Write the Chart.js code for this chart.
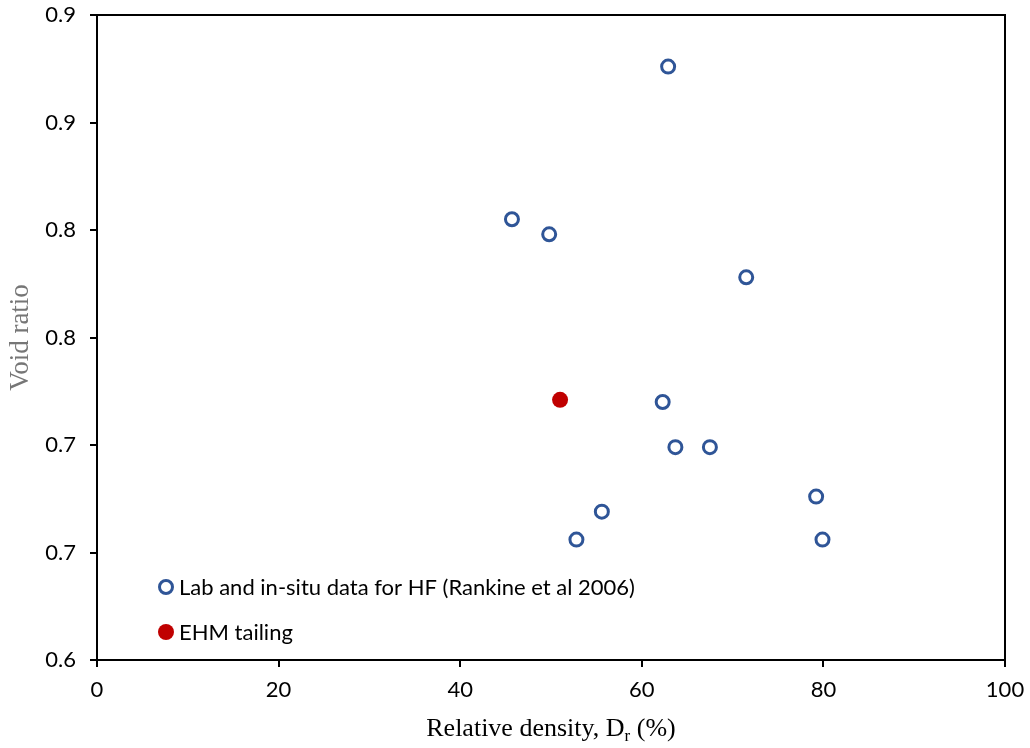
<!DOCTYPE html>
<html>
<head>
<meta charset="utf-8">
<script src="https://cdn.jsdelivr.net/npm/chart.js@4.4.0/dist/chart.umd.min.js"></script>
<style>
  html, body { margin: 0; padding: 0; background: #fff; }
  #wrap { width: 1030px; height: 748px; }
</style>
</head>
<body>
<div id="wrap"><canvas id="voids"></canvas></div>
<script>
// void ratio against relative density
const labDr   = [62.9, 45.7, 49.8, 71.5, 62.3, 63.7, 67.5, 55.6, 52.8, 79.2, 79.9];
const labVoid = [0.876, 0.805, 0.798, 0.778, 0.720, 0.699, 0.699, 0.669, 0.656, 0.676, 0.656];
const ehmDr   = [51.0];
const ehmVoid = [0.721];
const seriesNames = ['Lab and in-situ data for HF (Rankine et al 2006)', 'EHM tailing'];
const xTicks = [0, 20, 40, 60, 80, 100];
const yTicks = [0.6, 0.65, 0.7, 0.75, 0.8, 0.85, 0.9];
const yTickLabels = ['0.6', '0.7', '0.7', '0.8', '0.8', '0.9', '0.9'];

const BLUE = '#2F5597';
const RED = '#C00000';
const tickFont = { family: 'Lato', size: 22 };

function pts(xs, ys) {
    return xs.map((x, i) => ({ x: x, y: ys[i] }));
}

// box outline, axis titles and the in-plot legend
const extras = {
    id: 'extras',
    afterDraw(chart) {
        const ctx = chart.ctx;
        const a = chart.chartArea;
        ctx.save();
        ctx.strokeStyle = '#000';
        ctx.lineWidth = 2;
        ctx.beginPath();
        ctx.moveTo(a.left, a.top);
        ctx.lineTo(a.right, a.top);
        ctx.lineTo(a.right, a.bottom);
        ctx.stroke();

        // x title with subscript r
        ctx.fillStyle = '#000';
        ctx.textBaseline = 'alphabetic';
        const big = '26px "Liberation Serif"';
        const small = '17px "Liberation Serif"';
        const p1 = 'Relative density, D', p2 = 'r', p3 = ' (%)';
        ctx.font = big;
        const w1 = ctx.measureText(p1).width, w3 = ctx.measureText(p3).width;
        ctx.font = small;
        const w2 = ctx.measureText(p2).width;
        let x = (a.left + a.right) / 2 - (w1 + w2 + w3) / 2;
        const by = 736;
        ctx.font = big;
        ctx.textAlign = 'left';
        ctx.fillText(p1, x, by);
        x += w1;
        ctx.font = small;
        ctx.fillText(p2, x, by + 5);
        x += w2;
        ctx.font = big;
        ctx.fillText(p3, x, by);

        // y title
        ctx.save();
        ctx.translate(21, (a.top + a.bottom) / 2);
        ctx.rotate(-Math.PI / 2);
        ctx.textAlign = 'center';
        ctx.textBaseline = 'middle';
        ctx.fillStyle = '#767676';
        ctx.font = '27px "Liberation Serif"';
        ctx.fillText('Void ratio', 0, 0);
        ctx.restore();

        // legend
        const lx = a.left + 69;
        const rows = [a.bottom - 73, a.bottom - 28];
        chart.data.datasets.forEach((ds, i) => {
            const y = rows[i];
            ctx.beginPath();
            ctx.arc(lx, y, ds.pointRadius, 0, Math.PI * 2);
            if (ds.pointBorderWidth > 0) {
                ctx.fillStyle = '#fff';
                ctx.fill();
                ctx.lineWidth = ds.pointBorderWidth;
                ctx.strokeStyle = ds.borderColor;
                ctx.stroke();
            } else {
                ctx.fillStyle = ds.backgroundColor;
                ctx.fill();
            }
            ctx.fillStyle = '#000';
            ctx.font = '22px Lato';
            ctx.textAlign = 'left';
            ctx.textBaseline = 'middle';
            ctx.fillText(ds.label, lx + 13, y + 1);
        });
        ctx.restore();
    }
};

new Chart(document.getElementById('voids'), {
    type: 'scatter',
    data: {
        datasets: [{
            label: seriesNames[0],
            data: pts(labDr, labVoid),
            pointRadius: 6.5,
            pointHoverRadius: 6.5,
            pointBorderWidth: 3,
            borderColor: BLUE,
            backgroundColor: '#fff'
        }, {
            label: seriesNames[1],
            data: pts(ehmDr, ehmVoid),
            pointRadius: 8,
            pointHoverRadius: 8,
            pointBorderWidth: 0,
            borderColor: RED,
            backgroundColor: RED
        }]
    },
    options: {
        responsive: true,
        maintainAspectRatio: false,
        animation: false,
        layout: { padding: { top: 15, right: 25, left: 0, bottom: 0 } },
        plugins: { legend: { display: false }, tooltip: { enabled: false } },
        scales: {
            x: {
                type: 'linear',
                min: 0,
                max: 100,
                afterBuildTicks: s => { s.ticks = xTicks.map(v => ({ value: v })); },
                afterFit: s => { s.height = 88; s.paddingLeft = 0; s.paddingRight = 0; },
                grid: { drawOnChartArea: false, tickLength: 7, tickColor: '#000', lineWidth: 2 },
                border: { color: '#000', width: 2 },
                ticks: { font: tickFont, color: '#000', padding: 10, maxRotation: 0 }
            },
            y: {
                type: 'linear',
                min: 0.6,
                max: 0.9,
                afterBuildTicks: s => { s.ticks = yTicks.map(v => ({ value: v })); },
                afterFit: s => { s.width = 97; s.paddingTop = 0; s.paddingBottom = 0; },
                grid: { drawOnChartArea: false, tickLength: 7, tickColor: '#000', lineWidth: 2 },
                border: { color: '#000', width: 2 },
                ticks: {
                    font: tickFont, color: '#000', padding: 14,
                    callback: (v, i) => yTickLabels[i]
                }
            }
        }
    },
    plugins: [extras]
});
</script>
</body>
</html>
